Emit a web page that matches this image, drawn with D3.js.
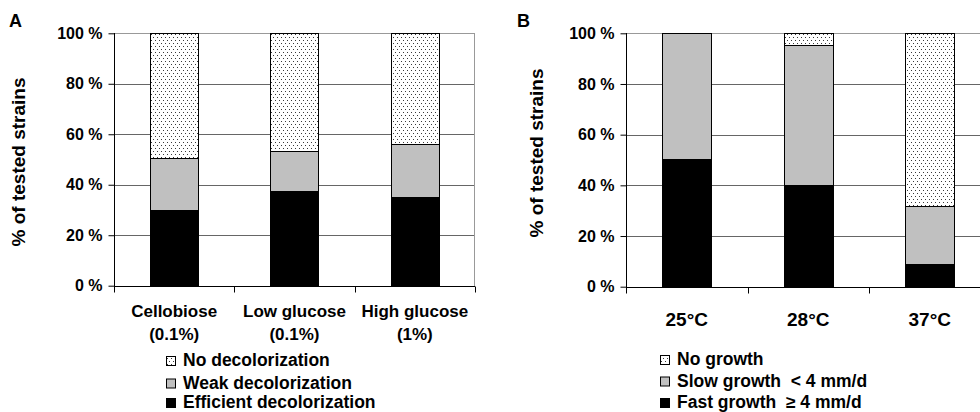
<!DOCTYPE html>
<html>
<head>
<meta charset="utf-8">
<script src="https://cdn.jsdelivr.net/npm/d3@7"></script>
<style>
  html, body { margin: 0; padding: 0; background: #fff; }
  svg { display: block; font-family: "Liberation Sans", Arial, sans-serif; font-weight: bold; }
</style>
</head>
<body>
<svg id="chart" width="980" height="412"></svg>
<script>
// ---------- data ----------
const catsA = ["Cellobiose", "Low glucose", "High glucose"];
const catsA2 = ["(0.1%)", "(0.1%)", "(1%)"];
const efficientA = [30, 37.5, 35];
const weakA = [20.5, 16, 21];
const noDecolA = [49.5, 46.5, 44];
const legendA = ["No decolorization", "Weak decolorization", "Efficient decolorization"];

const catsB = ["25°C", "28°C", "37°C"];
const fastB = [50.5, 40, 9];
const slowB = [49.5, 55.5, 23];
const noGrowthB = [0, 4.5, 68];
const legendB = ["No growth", "Slow growth  < 4 mm/d", "Fast growth  \u2265 4 mm/d"];

const yTicks = [0, 20, 40, 60, 80, 100];
const tickFmt = d => d + " %";

// ---------- drawing ----------
const svg = d3.select("#chart");
const defs = svg.append("defs");
const pat = defs.append("pattern").attr("id", "dots")
  .attr("patternUnits", "userSpaceOnUse").attr("width", 4).attr("height", 6);
pat.append("rect").attr("width", 4).attr("height", 6).attr("fill", "#fff");
pat.append("rect").attr("x", 1).attr("y", 1).attr("width", 1).attr("height", 1).attr("fill", "#3a3a3a");
pat.append("rect").attr("x", 3).attr("y", 4).attr("width", 1).attr("height", 1).attr("fill", "#3a3a3a");

const fills = ["#000000", "#c0c0c0", "url(#dots)"]; // bottom -> top

function panel(cfg) {
  const g = svg.append("g");
  const x = d3.scaleBand().domain(cfg.cats).range([cfg.x0, cfg.x1])
    .paddingInner(0.6).paddingOuter(0.3);
  const y = d3.scaleLinear().domain([0, 100]).range([cfg.yb, cfg.yt]);
  const step = x.step();
  const left = cfg.x0, right = cfg.x1;

  // gridlines
  g.append("g").selectAll("line").data(yTicks.filter(d => d > 0)).join("line")
    .attr("x1", left).attr("x2", right)
    .attr("y1", d => Math.round(y(d)) + 0.5).attr("y2", d => Math.round(y(d)) + 0.5)
    .attr("stroke", d => d === 100 ? "#999" : "#666").attr("stroke-width", 1);
  // right border
  g.append("line").attr("x1", right - 0.5).attr("x2", right - 0.5)
    .attr("y1", Math.round(y(100))).attr("y2", Math.round(y(0)))
    .attr("stroke", "#999");

  // bars
  const rows = cfg.cats.map((c, i) => ({ cat: c, s0: cfg.series[0][i], s1: cfg.series[1][i], s2: cfg.series[2][i] }));
  const stack = d3.stack().keys(["s0", "s1", "s2"])(rows);
  stack.forEach((layer, li) => {
    g.append("g").selectAll("rect").data(layer.filter(d => d[1] - d[0] > 0)).join("rect")
      .attr("x", d => Math.round(x(d.data.cat)) + 0.5)
      .attr("width", Math.round(x.bandwidth()))
      .attr("y", d => Math.round(y(d[1])) + 0.5)
      .attr("height", d => Math.round(y(d[0])) - Math.round(y(d[1])))
      .attr("fill", fills[li]).attr("stroke", "#000").attr("stroke-width", 1);
  });

  // y axis
  const ya = g.append("g").attr("transform", `translate(${left + 0.5},0)`)
    .call(d3.axisLeft(y).tickValues(yTicks).tickFormat(tickFmt).tickSize(6).tickPadding(6));
  ya.select(".domain").remove();
  ya.selectAll(".tick line").attr("stroke", "#000");
  ya.selectAll("text").attr("font-size", 16).attr("font-family", "Liberation Sans, Arial, sans-serif")
    .attr("font-weight", "bold").attr("fill", "#000");
  g.append("line").attr("x1", left + 0.5).attr("x2", left + 0.5)
    .attr("y1", Math.round(y(100))).attr("y2", Math.round(y(0)) + 6).attr("stroke", "#000");

  // x axis
  const yb = Math.round(y(0)) + 0.5;
  g.append("line").attr("x1", left).attr("x2", right).attr("y1", yb).attr("y2", yb).attr("stroke", "#000");
  const bounds = d3.range(cfg.cats.length + 1).map(i => left + i * step);
  g.append("g").selectAll("line").data(bounds).join("line")
    .attr("x1", d => Math.round(d) + 0.5).attr("x2", d => Math.round(d) + 0.5)
    .attr("y1", yb).attr("y2", yb + 6).attr("stroke", "#000");

  // category labels
  cfg.cats.forEach((c, i) => {
    const cx = x(c) + x.bandwidth() / 2;
    g.append("text").attr("x", cx).attr("y", cfg.catY).attr("text-anchor", "middle")
      .attr("font-size", cfg.catSize).text(c);
    if (cfg.cats2) {
      g.append("text").attr("x", cx).attr("y", cfg.catY + 23).attr("text-anchor", "middle")
        .attr("font-size", cfg.catSize).text(cfg.cats2[i]);
    }
  });

  // y title
  g.append("text").attr("transform", `translate(${cfg.titleX},${cfg.titleY}) rotate(-90)`)
    .attr("text-anchor", "middle").attr("font-size", 19).text("% of tested strains");

  // panel letter
  g.append("text").attr("x", cfg.letterX).attr("y", 27).attr("font-size", 18).text(cfg.letter);

  // legend
  const legendFills = [fills[2], fills[1], fills[0]];
  cfg.legend.forEach((t, i) => {
    const by = cfg.legY[i];
    g.append("rect").attr("x", cfg.legX + 0.5).attr("y", by - 9.5).attr("width", 9).attr("height", 9)
      .attr("fill", legendFills[i]).attr("stroke", "#000").attr("stroke-width", 1);
    g.append("text").attr("x", cfg.legX + 17).attr("y", by).attr("font-size", 17.5)
      .style("white-space", "pre").attr("xml:space", "preserve").text(t);
  });
}

panel({
  cats: catsA, cats2: catsA2, x0: 114, x1: 475, yb: 285.7, yt: 33.3,
  series: [efficientA, weakA, noDecolA], catY: 317, catSize: 17,
  titleX: 25, titleY: 162, letter: "A", letterX: 9,
  legend: legendA, legX: 166, legY: [366, 388.5, 408]
});
panel({
  cats: catsB, cats2: null, x0: 626, x1: 990.5, yb: 286.7, yt: 33.3,
  series: [fastB, slowB, noGrowthB], catY: 326, catSize: 19,
  titleX: 543, titleY: 153, letter: "B", letterX: 517,
  legend: legendB, legX: 660, legY: [365, 386.5, 408]
});
</script>
</body>
</html>
